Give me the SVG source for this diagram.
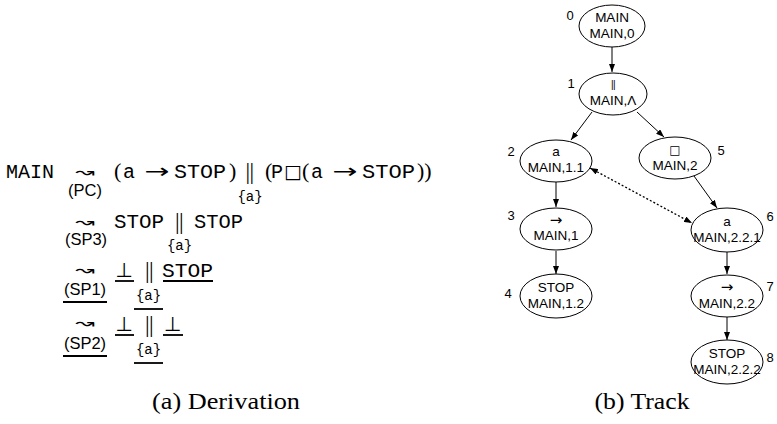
<svg xmlns="http://www.w3.org/2000/svg" width="777" height="424" viewBox="0 0 777 424">
<style>
  .tt{font-family:"Liberation Mono","DejaVu Sans Mono",monospace;font-size:20px;fill:#000}
  .ts{font-family:"Liberation Mono","DejaVu Sans Mono",monospace;font-size:14px;text-anchor:middle}
  .rm{font-family:"Liberation Serif","DejaVu Serif",serif;font-size:22px}
  .par{font-family:"Liberation Serif","DejaVu Serif",serif;font-size:23px;text-anchor:middle;letter-spacing:-0.5px}
  .sym{font-family:"DejaVu Sans",sans-serif;text-anchor:middle}
  .lead{font-family:"DejaVu Sans",sans-serif;font-size:15px;text-anchor:middle}
  .rule{font-family:"Liberation Sans",Arial,sans-serif;font-size:16.5px;text-anchor:middle}
  .ul{stroke:#000;stroke-width:1.8}
  .cap{font-family:"Liberation Serif","DejaVu Serif",serif;font-size:24px;text-anchor:middle}
  .node ellipse{fill:#fff;stroke:#000;stroke-width:1}
  .node text{font-family:"Liberation Sans",Arial,sans-serif;font-size:13.5px;text-anchor:middle}
  .node .num{font-size:13px}
  .node .op{font-family:"DejaVu Sans",sans-serif;font-size:15px}
  .edge{stroke:#000;stroke-width:1;fill:none;marker-end:url(#ah)}
  .link{stroke:#000;stroke-width:1.3;stroke-dasharray:2 2;fill:none;marker-start:url(#ah);marker-end:url(#ah)}
</style>
<defs>
  <marker id="ah" viewBox="0 0 8 6" refX="8" refY="3" markerWidth="8" markerHeight="6" markerUnits="userSpaceOnUse" orient="auto-start-reverse">
    <path d="M0,0L8,3L0,6z" fill="#000"/>
  </marker>
</defs>
<rect width="777" height="424" fill="#fff"/>

<!-- (a) derivation -->
<g id="derivation">
  <!-- step 1 -->
  <text class="tt" x="6" y="178">MAIN</text>
  <text class="lead" transform="translate(85 177) scale(1.55 1)">↝</text>
  <text class="rule" x="85" y="196">(PC)</text>
  <text class="rm" x="114" y="178">(</text>
  <text class="tt" x="123" y="178">a</text>
  <text class="sym" x="157" y="178" font-size="20" textLength="25" lengthAdjust="spacingAndGlyphs">→</text>
  <text class="tt" x="174" y="178" textLength="52" lengthAdjust="spacingAndGlyphs">STOP</text>
  <text class="rm" x="229" y="178">)</text>
  <text class="par" x="249.5" y="179">||</text>
  <text class="ts" x="250" y="201">{a}</text>
  <text class="rm" x="265" y="178">(</text>
  <text class="tt" x="271" y="178">P</text>
  <text class="sym" x="293" y="178" font-size="19">□</text>
  <text class="rm" x="302" y="178">(</text>
  <text class="tt" x="311" y="178">a</text>
  <text class="sym" x="345" y="178" font-size="20" textLength="25" lengthAdjust="spacingAndGlyphs">→</text>
  <text class="tt" x="362" y="178" textLength="53" lengthAdjust="spacingAndGlyphs">STOP</text>
  <text class="rm" x="417" y="178">))</text>

  <!-- step 2 -->
  <text class="lead" transform="translate(85 227) scale(1.55 1)">↝</text>
  <text class="rule" x="86" y="245">(SP3)</text>
  <text class="tt" x="114" y="228" textLength="50" lengthAdjust="spacingAndGlyphs">STOP</text>
  <text class="par" x="179" y="229">||</text>
  <text class="ts" x="179.5" y="250">{a}</text>
  <text class="tt" x="194" y="228" textLength="49" lengthAdjust="spacingAndGlyphs">STOP</text>

  <!-- step 3 -->
  <text class="lead" transform="translate(85 275) scale(1.55 1)">↝</text>
  <text class="rule" x="85" y="295">(SP1)</text>
  <line class="ul" x1="63" y1="302" x2="107" y2="302"/>
  <text class="sym" x="124" y="277" font-size="20">⊥</text>
  <line class="ul" x1="115" y1="281" x2="134" y2="281"/>
  <text class="par" x="149" y="278">||</text>
  <text class="ts" x="148.5" y="300">{a}</text>
  <line class="ul" x1="134" y1="309" x2="163" y2="309"/>
  <text class="tt" x="162" y="277" textLength="51" lengthAdjust="spacingAndGlyphs">STOP</text>
  <line class="ul" x1="163" y1="281" x2="213" y2="281"/>

  <!-- step 4 -->
  <text class="lead" transform="translate(85 328) scale(1.55 1)">↝</text>
  <text class="rule" x="85" y="349">(SP2)</text>
  <line class="ul" x1="63" y1="356" x2="107" y2="356"/>
  <text class="sym" x="124" y="331" font-size="20">⊥</text>
  <line class="ul" x1="115" y1="335" x2="134" y2="335"/>
  <text class="par" x="149" y="332">||</text>
  <text class="ts" x="148.5" y="354">{a}</text>
  <line class="ul" x1="134" y1="363" x2="163" y2="363"/>
  <text class="sym" x="172.5" y="331" font-size="20">⊥</text>
  <line class="ul" x1="163" y1="335" x2="183" y2="335"/>
</g>

<!-- (b) track graph: connectors -->
<g id="connectors">
  <line class="edge" x1="612" y1="47" x2="612" y2="72"/>
  <line class="edge" x1="592" y1="112" x2="571" y2="140"/>
  <line class="edge" x1="637" y1="112" x2="664" y2="137"/>
  <line class="edge" x1="556" y1="182" x2="556" y2="207"/>
  <line class="edge" x1="694" y1="176" x2="717" y2="208"/>
  <line class="edge" x1="556" y1="251" x2="556" y2="274"/>
  <line class="edge" x1="727" y1="252" x2="727" y2="274"/>
  <line class="edge" x1="727" y1="317" x2="727" y2="340"/>
  <line class="link" x1="590" y1="168" x2="692" y2="223"/>
</g>

<!-- (b) track graph: nodes -->
<g id="n0" class="node">
  <ellipse cx="612" cy="26" rx="33" ry="21"/>
  <text x="612" y="22">MAIN</text>
  <text x="612" y="38">MAIN,0</text>
  <text class="num" x="570" y="20">0</text>
</g>
<g id="n1" class="node">
  <ellipse cx="613" cy="94" rx="34" ry="21"/>
  <text x="613" y="88" style="font-size:10px;letter-spacing:-0.5px">||</text>
  <text x="613" y="105">MAIN,Λ</text>
  <text class="num" x="571" y="88">1</text>
</g>
<g id="n2" class="node">
  <ellipse cx="556" cy="161" rx="36" ry="21"/>
  <text x="556" y="156">a</text>
  <text x="556" y="172">MAIN,1.1</text>
  <text class="num" x="511" y="156">2</text>
</g>
<g id="n3" class="node">
  <ellipse cx="556" cy="229" rx="36" ry="21"/>
  <text class="op" x="556" y="225">→</text>
  <text x="556" y="240">MAIN,1</text>
  <text class="num" x="511" y="220">3</text>
</g>
<g id="n4" class="node">
  <ellipse cx="556" cy="296" rx="36" ry="22"/>
  <text x="556" y="292">STOP</text>
  <text x="556" y="308">MAIN,1.2</text>
  <text class="num" x="508" y="298">4</text>
</g>
<g id="n5" class="node">
  <ellipse cx="675" cy="158" rx="36" ry="21"/>
  <text x="675" y="154" style="font-family:'DejaVu Sans',sans-serif;font-size:12px">□</text>
  <text x="675" y="170">MAIN,2</text>
  <text class="num" x="721" y="155">5</text>
</g>
<g id="n6" class="node">
  <ellipse cx="727" cy="230" rx="36" ry="22"/>
  <text x="727" y="226">a</text>
  <text x="727" y="242">MAIN,2.2.1</text>
  <text class="num" x="770" y="221">6</text>
</g>
<g id="n7" class="node">
  <ellipse cx="727" cy="296" rx="36" ry="21"/>
  <text class="op" x="727" y="292">→</text>
  <text x="727" y="308">MAIN,2.2</text>
  <text class="num" x="770" y="291">7</text>
</g>
<g id="n8" class="node">
  <ellipse cx="727" cy="362" rx="36" ry="22"/>
  <text x="727" y="358">STOP</text>
  <text x="727" y="374">MAIN,2.2.2</text>
  <text class="num" x="770" y="362">8</text>
</g>

<!-- captions -->
<text class="cap" x="226" y="409" textLength="148" lengthAdjust="spacingAndGlyphs">(a) Derivation</text>
<text class="cap" x="642" y="409" textLength="95" lengthAdjust="spacingAndGlyphs">(b) Track</text>
</svg>
